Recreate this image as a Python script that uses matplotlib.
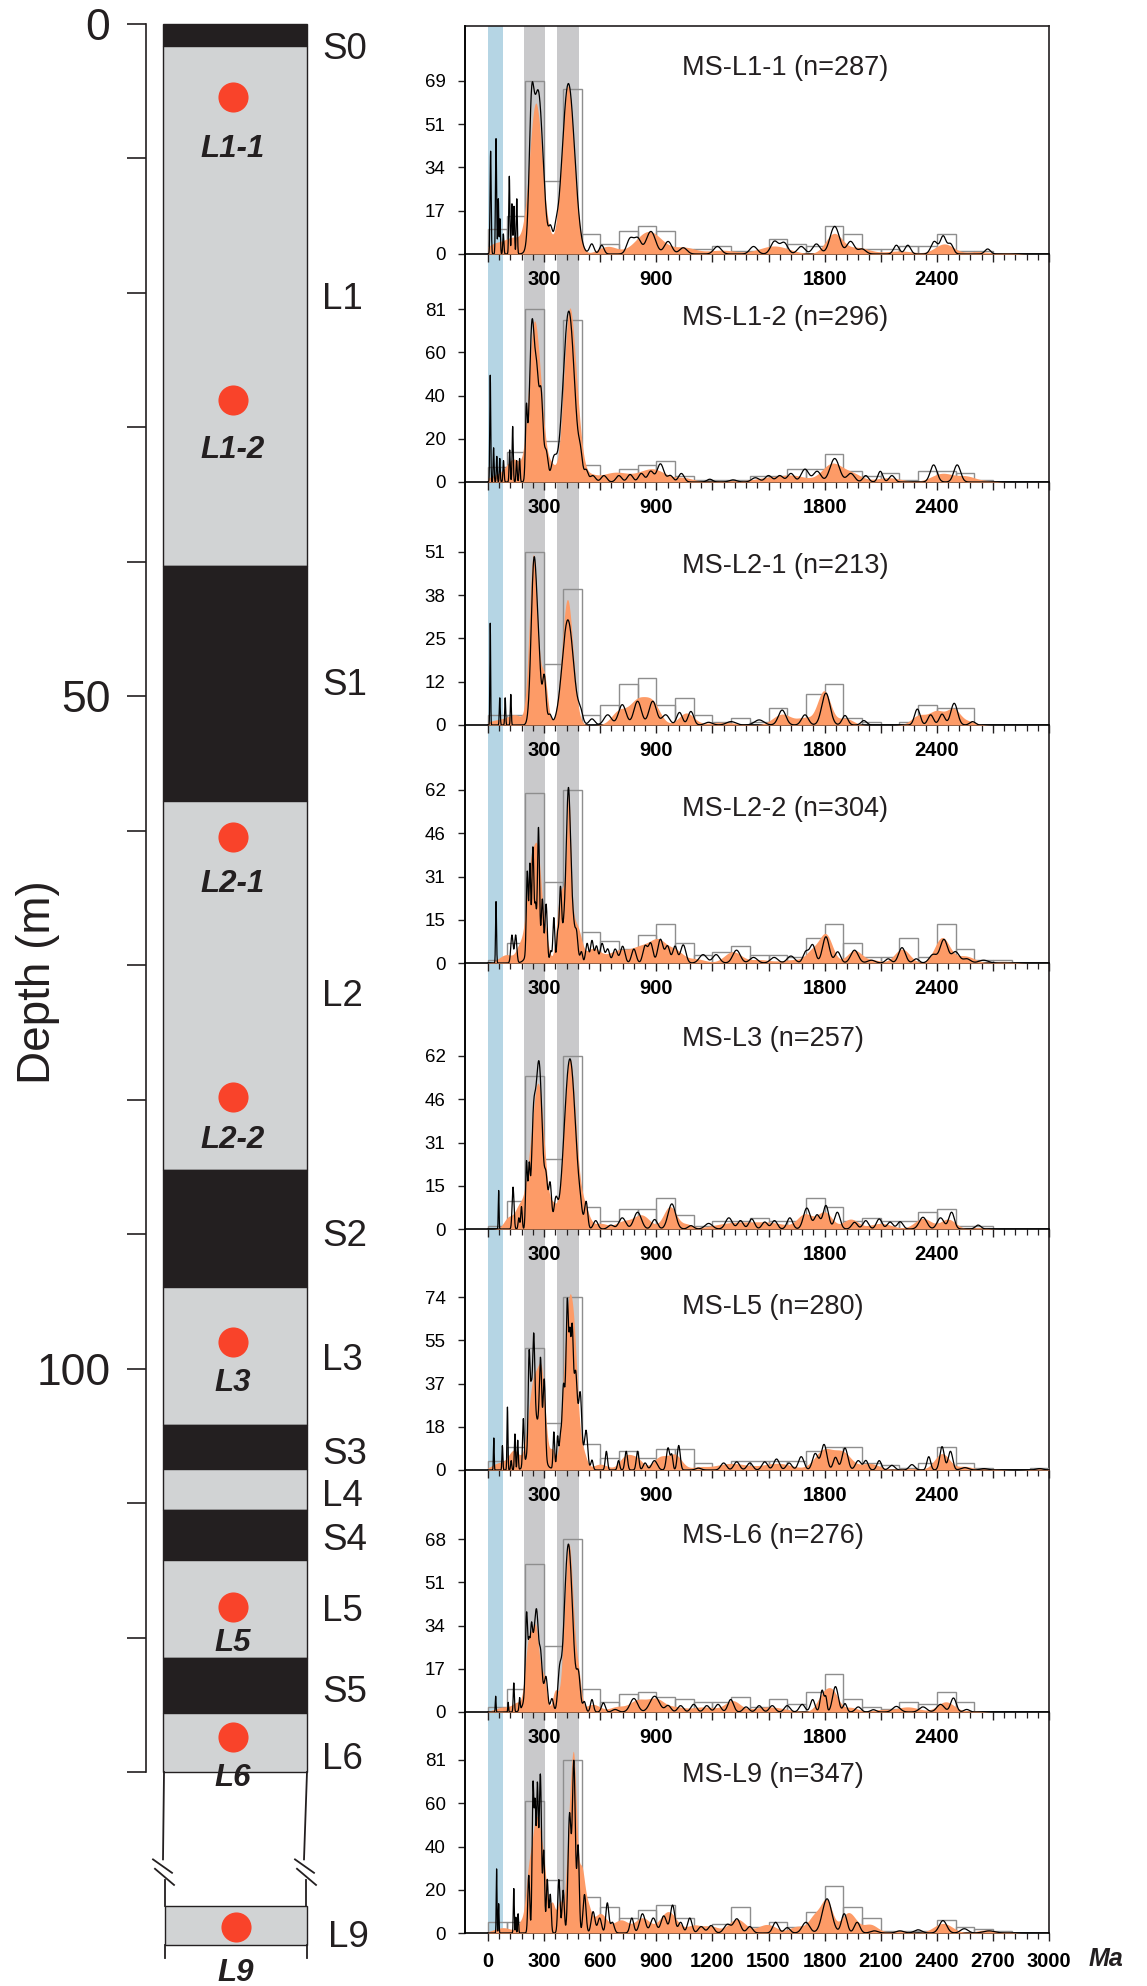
import numpy as np
import matplotlib
matplotlib.use('Agg')
import matplotlib.pyplot as plt

plt.rcParams['font.family'] = ['Liberation Sans', 'DejaVu Sans']

# ---------------- stratigraphic column ----------------
layer_names = ['S0', 'L1', 'S1', 'L2', 'S2', 'L3', 'S3', 'L4', 'S4', 'L5', 'S5', 'L6']
layer_tops = [0.0, 1.6, 40.3, 57.8, 85.2, 93.9, 104.2, 107.5, 110.5, 114.2, 121.5, 125.6]
layer_bottoms = [1.6, 40.3, 57.8, 85.2, 93.9, 104.2, 107.5, 110.5, 114.2, 121.5, 125.6, 130.0]
layer_label_depths = [1.9, 20.5, 49.2, 72.3, 90.2, 99.4, 106.4, 109.5, 112.8, 118.1, 124.1, 129.1]

sample_labels = ['L1-1', 'L1-2', 'L2-1', 'L2-2', 'L3', 'L5', 'L6']
sample_depths = [5.4, 28.0, 60.5, 79.8, 98.0, 117.7, 127.4]

# L9 lies below the break in the column (drawn on a shifted depth scale)
l9_box = (140.0, 142.9)
l9_depth = 141.5

# ---------------- detrital zircon age spectra ----------------
sample_names = ['MS-L1-1', 'MS-L1-2', 'MS-L2-1', 'MS-L2-2', 'MS-L3', 'MS-L5', 'MS-L6', 'MS-L9']
sample_n = [287, 296, 213, 304, 257, 280, 276, 347]
bin_edges = np.arange(0, 3001, 100)

# counts per 100 Ma bin, 0-3000 Ma
hist_l1_1 = [10, 15, 69, 29, 66, 8, 4, 9, 11, 9, 2, 2, 3, 1, 1, 6, 4, 3, 11, 8, 2, 2, 3, 3, 8, 1, 1, 0, 0, 0]
hist_l1_2 = [7, 14, 81, 19, 76, 8, 3, 6, 8, 10, 3, 1, 1, 1, 3, 3, 6, 6, 13, 5, 3, 4, 1, 5, 5, 4, 1, 0, 0, 0]
hist_l2_1 = [3, 3, 51, 18, 40, 3, 6, 12, 14, 6, 8, 3, 1, 2, 1, 5, 1, 9, 12, 2, 1, 0, 1, 6, 5, 5, 0, 0, 0, 0]
hist_l2_2 = [1, 7, 61, 29, 62, 11, 8, 5, 10, 14, 7, 3, 4, 6, 3, 3, 2, 9, 14, 7, 2, 2, 9, 2, 14, 5, 1, 1, 0, 0]
hist_l3 = [1, 10, 55, 25, 62, 8, 3, 7, 7, 11, 5, 1, 3, 3, 4, 3, 3, 11, 8, 3, 4, 3, 3, 6, 7, 1, 1, 0, 0, 0]
hist_l5 = [4, 10, 52, 20, 74, 11, 5, 8, 5, 9, 9, 3, 0, 4, 4, 4, 4, 8, 10, 10, 3, 2, 1, 3, 10, 3, 1, 0, 0, 1]
hist_l6 = [2, 9, 58, 26, 68, 9, 4, 7, 8, 6, 5, 4, 4, 6, 2, 5, 3, 8, 15, 5, 2, 1, 4, 3, 8, 4, 0, 0, 0, 0]
hist_l9 = [5, 5, 62, 25, 81, 17, 12, 7, 11, 13, 7, 3, 4, 12, 3, 5, 3, 10, 22, 12, 7, 1, 1, 1, 6, 3, 2, 1, 0, 0]

# kernel density peaks: (age Ma, height, spread Ma)
kde_l1_1 = [(40, 4, 50), (140, 6, 45), (256, 60, 35), (330, 3, 20), (428, 67, 34), (640, 3, 50),
            (860, 9, 70), (1050, 2.5, 60), (1250, 1.5, 80), (1530, 3.2, 80), (1850, 8, 45), (1980, 2.5, 60),
            (2200, 1.2, 80), (2440, 4, 50), (2620, 1, 60), (2780, 0.5, 40)]
kde_l1_2 = [(50, 3, 50), (140, 10, 40), (248, 74, 30), (290, 10, 20), (335, 8, 25), (435, 78, 30), (480, 15, 25),
            (530, 3, 40), (680, 4.5, 80), (880, 6, 70), (1050, 1.8, 50), (1280, 0.6, 80), (1490, 1.8, 70),
            (1630, 3, 70), (1840, 8.5, 55), (1950, 3.5, 50), (2140, 2, 70), (2430, 4, 60), (2560, 2.5, 50),
            (2670, 0.5, 40)]
kde_l2_1 = [(60, 1.5, 60), (150, 2.5, 40), (243, 50, 22), (300, 14, 18), (425, 37, 30), (700, 4, 40),
            (800, 7, 45), (880, 6, 40), (1060, 3.5, 40), (1250, 0.8, 80), (1573, 3.2, 50), (1695, 2, 40),
            (1797, 10, 35), (1910, 2, 40), (2305, 2.8, 40), (2400, 4, 40), (2489, 4.5, 35), (2570, 1, 40)]
kde_l2_2 = [(100, 3, 40), (170, 5, 20), (230, 34, 25), (270, 30, 20), (310, 8, 15), (380, 10, 15), (420, 28, 32),
            (432, 34, 10), (484, 8, 20), (560, 5, 40), (700, 4.5, 60), (820, 5, 50), (912, 7.5, 45),
            (1003, 4, 40), (1110, 1.5, 50), (1308, 4, 45), (1450, 1.2, 60), (1634, 1.2, 60), (1736, 4, 35),
            (1807, 10, 35), (1960, 4.5, 40), (2061, 1, 40), (2214, 5, 40), (2428, 9, 40), (2550, 2.5, 50),
            (2753, 0.6, 50)]
kde_l3 = [(110, 4, 25), (170, 8, 25), (215, 8, 20), (268, 52, 33), (350, 6, 18), (438, 61, 32), (515, 7, 25),
          (600, 2, 40), (720, 2.5, 40), (820, 5, 45), (973, 8, 35), (1064, 1.5, 30), (1300, 2, 100),
          (1500, 2.2, 100), (1695, 5, 40), (1800, 6, 40), (1939, 3.5, 40), (2100, 2, 60), (2326, 3.8, 45),
          (2460, 3.5, 40), (2620, 0.5, 40)]
kde_l5 = [(60, 3, 40), (140, 8, 30), (245, 38, 30), (290, 30, 20), (345, 8, 15), (395, 7, 15), (432, 68, 25),
          (465, 28, 18), (505, 8, 20), (600, 2.5, 40), (739, 6, 35), (800, 4, 30), (922, 5.5, 40), (1003, 6, 35),
          (1125, 1, 40), (1300, 2.8, 90), (1550, 2.8, 80), (1797, 8.5, 50), (1899, 7, 45), (2041, 2.8, 50),
          (2245, 0.7, 60), (2428, 7, 40), (2550, 1.5, 40), (2680, 0.5, 50), (2950, 0.6, 40)]
kde_l6 = [(90, 2, 50), (160, 3, 25), (215, 24, 18), (255, 32, 20), (300, 12, 15), (360, 8, 15), (433, 66, 24),
          (484, 11, 15), (560, 3, 40), (690, 2, 40), (800, 4.5, 45), (900, 5, 45), (1003, 1.5, 40), (1150, 2, 80),
          (1308, 4, 40), (1500, 2, 90), (1797, 7, 35), (1848, 6, 30), (1939, 1.8, 40), (2102, 0.9, 50),
          (2245, 2, 60), (2448, 4, 45), (2591, 0.5, 40)]
kde_l9 = [(80, 2.5, 50), (180, 5, 20), (215, 16, 15), (258, 53, 26), (300, 20, 18), (345, 13, 15), (385, 14, 15),
          (437, 48, 18), (462, 62, 15), (500, 25, 15), (530, 12, 20), (600, 9, 35), (711, 6, 40), (826, 7, 40),
          (964, 10, 45), (1102, 3.5, 40), (1193, 3, 40), (1331, 6.5, 45), (1492, 4, 50), (1652, 3, 40),
          (1750, 8, 35), (1813, 14, 30), (1928, 9.5, 40), (2043, 4, 40), (2203, 1, 50), (2433, 4.5, 50),
          (2662, 1.4, 50), (2780, 0.5, 30)]

# probability density peaks: (age Ma, height, spread Ma)
pdp_l1_1 = [(14, 41, 3), (43, 46, 3), (55, 22, 2.5), (64, 14, 2.5), (82, 8, 3), (114, 31, 3), (128, 20, 3),
            (139, 19, 3), (154, 22, 3), (232, 40, 12), (268, 65, 26), (335, 8, 10), (362, 5, 10),
            (430, 68, 33), (555, 4, 12), (608, 3.5, 12), (760, 6, 18), (800, 6, 18), (871, 9, 25),
            (963, 5, 20), (1044, 2.5, 20), (1227, 3, 20), (1420, 3, 20), (1532, 5, 20), (1583, 4.5, 20),
            (1675, 3, 20), (1756, 4, 20), (1854, 11, 25), (1939, 5, 20), (2000, 2, 20), (2184, 3.5, 15),
            (2245, 3.5, 15), (2387, 5, 18), (2434, 7, 15), (2473, 4, 15), (2672, 2, 15)]
pdp_l1_2 = [(12, 50, 2.5), (30, 16, 2.5), (47, 12, 2.5), (63, 11, 2.5), (83, 10, 3), (116, 15, 3), (132, 26, 3),
            (153, 10, 3), (169, 11, 3), (205, 30, 5), (236, 75, 14), (262, 38, 10), (284, 40, 10), (311, 14, 10),
            (352, 10, 14), (432, 80, 30), (495, 8, 10), (525, 5, 10), (560, 3, 15), (620, 3, 15), (700, 3, 15),
            (760, 3.5, 15), (820, 4, 15), (870, 5, 15), (922, 8.5, 18), (975, 3, 15), (1034, 4, 15),
            (1186, 1.3, 15), (1310, 1, 20), (1430, 2, 20), (1500, 3, 18), (1560, 3, 18), (1620, 4, 18),
            (1695, 6, 20), (1760, 5, 20), (1854, 11, 25), (1940, 4, 20), (2020, 3, 15), (2098, 5, 13),
            (2160, 3, 15), (2383, 8, 18), (2509, 8, 18)]
pdp_l2_1 = [(12, 30, 2), (63, 8, 2.5), (92, 8, 2.5), (122, 9, 2.5), (246, 48, 15), (272, 15, 12), (301, 14, 9),
            (330, 3, 10), (427, 31, 30), (495, 3, 12), (556, 1.8, 15), (640, 3, 20), (718, 6, 20), (800, 7, 20),
            (881, 7, 20), (950, 3, 20), (1024, 3.7, 15), (1085, 4, 15), (1180, 0.8, 20), (1300, 1, 25),
            (1450, 1.5, 25), (1573, 4.4, 20), (1695, 3, 18), (1807, 9.4, 22), (1909, 2.8, 15), (2010, 1.3, 15),
            (2296, 4.7, 15), (2367, 3, 15), (2428, 3.2, 15), (2493, 6.4, 18), (2591, 1, 15)]
pdp_l2_2 = [(43, 22, 2.5), (128, 10, 6), (148, 10, 6), (255, 12, 30), (210, 29, 5), (224, 28, 4), (240, 31, 5),
            (254, 9, 4), (270, 38, 5), (291, 17, 5), (311, 19, 6), (336, 4, 5), (352, 16, 5), (372, 9, 5),
            (387, 22, 6), (430, 36, 10), (432, 27, 25), (474, 5, 6), (500, 3.4, 6), (530, 7, 8), (556, 8, 8),
            (580, 6, 8), (610, 7, 10), (640, 5, 10), (680, 5, 12), (720, 6, 12), (780, 5, 12), (840, 6, 12),
            (870, 7, 12), (922, 8.5, 14), (960, 6, 12), (1000, 6, 12), (1044, 6.5, 14), (1150, 3, 20),
            (1220, 3, 18), (1329, 4.6, 20), (1420, 2, 20), (1530, 2, 20), (1620, 2.5, 20), (1700, 4, 15),
            (1736, 6.4, 15), (1807, 9.4, 18), (1870, 4, 15), (1960, 4.6, 20), (2050, 1, 20), (2140, 1.5, 15),
            (2214, 5.5, 18), (2290, 1.5, 15), (2380, 3, 20), (2438, 8.4, 20), (2500, 4, 20), (2560, 1.5, 20),
            (2650, 1, 25)]
pdp_l3 = [(57, 13.8, 2), (134, 15, 5), (165, 4, 4), (179, 8, 4), (206, 24, 5), (220, 20, 5), (242, 28, 10),
          (272, 60, 18), (311, 14, 8), (332, 16, 8), (362, 9, 10), (438, 61, 30), (494, 2, 8), (525, 9, 8),
          (576, 3, 12), (657, 1.4, 15), (718, 4, 18), (800, 6, 20), (891, 3.4, 15), (983, 9, 20), (1085, 1.2, 15),
          (1180, 2, 20), (1288, 4, 18), (1350, 3, 15), (1410, 3.6, 15), (1480, 2.5, 15), (1532, 3, 15),
          (1614, 4, 15), (1705, 7.5, 18), (1760, 5, 15), (1807, 8.4, 15), (1868, 6, 15), (1960, 2.4, 15),
          (2020, 3, 15), (2092, 3.6, 15), (2150, 2.5, 15), (2204, 2.6, 15), (2326, 4.2, 20), (2420, 4, 18),
          (2479, 6, 15), (2621, 1.4, 15)]
pdp_l5 = [(31, 13.7, 2), (77, 10.4, 2.5), (104, 26.9, 2.5), (124, 4, 3), (144, 15.4, 3), (159, 12.6, 3),
          (189, 20, 4), (255, 22, 30), (220, 40, 5), (231, 15, 4), (244, 38, 6), (281, 33, 6), (301, 32, 6),
          (352, 15, 4), (372, 10, 4), (387, 5, 5), (445, 40, 35), (403, 17, 6), (424, 40, 6), (438, 18, 4),
          (450, 23, 5), (470, 11, 6), (494, 18, 7), (525, 14, 8), (556, 4, 6), (633, 8, 6), (698, 4, 6),
          (739, 8, 7), (800, 8, 7), (840, 3, 10), (890, 4, 15), (963, 9.5, 9), (983, 6, 6), (1020, 10.5, 8),
          (1125, 0.8, 15), (1260, 3, 15), (1330, 3.5, 15), (1400, 3, 15), (1480, 3.5, 15), (1543, 4.7, 15),
          (1610, 3, 15), (1675, 5.7, 15), (1750, 7, 15), (1797, 10.9, 15), (1858, 5.4, 12), (1909, 9.4, 15),
          (1980, 4, 15), (2021, 4, 12), (2092, 4, 12), (2160, 2, 15), (2267, 2.3, 15), (2357, 5.7, 10),
          (2428, 10, 12), (2473, 8, 12), (2550, 1, 20), (2652, 0.6, 20), (2950, 0.6, 20)]
pdp_l6 = [(41, 6.2, 2), (108, 3.8, 2), (138, 11.4, 3), (169, 4.9, 3), (250, 30, 30), (206, 29, 6), (220, 9, 4),
          (232, 10, 5), (260, 12, 8), (282, 7, 6), (311, 10, 8), (342, 5, 8), (382, 12, 9), (430, 66, 22),
          (484, 13, 10), (515, 4, 8), (556, 4.9, 8), (617, 3.6, 10), (680, 1, 15), (780, 5.3, 20), (891, 6.2, 25),
          (963, 2.5, 15), (1030, 2.5, 15), (1100, 3, 15), (1170, 2.5, 15), (1230, 3, 15), (1298, 4.9, 15),
          (1380, 2, 15), (1450, 2.5, 15), (1520, 2.5, 15), (1600, 2.5, 15), (1680, 3, 15), (1736, 4.9, 12),
          (1787, 8.6, 10), (1807, 5, 6), (1858, 10, 15), (1909, 3.3, 10), (1980, 2, 15), (2061, 0.9, 15),
          (2184, 2.2, 20), (2326, 2, 20), (2420, 3, 20), (2489, 5.5, 15), (2560, 1, 15)]
pdp_l9 = [(46, 30, 2), (57, 13.7, 2), (138, 20.8, 2.5), (149, 7.4, 2), (161, 9, 2.5), (218, 27, 5), (241, 70, 5),
          (252, 53, 4), (264, 68, 5), (280, 74, 6), (298, 38, 5), (317, 25, 5), (333, 18, 5), (379, 25, 6),
          (402, 20, 6), (436, 55, 8), (459, 80, 8), (482, 40, 6), (516, 18, 8), (562, 10, 10), (597, 7, 10),
          (638, 14, 8), (665, 5, 10), (769, 7, 10), (826, 9, 15), (884, 7, 15), (940, 8, 15), (987, 13, 12),
          (1030, 5, 12), (1079, 7, 12), (1140, 3, 15), (1193, 3.5, 15), (1280, 4, 18), (1331, 6.6, 18),
          (1400, 3, 15), (1538, 5, 15), (1600, 2.5, 15), (1700, 5, 20), (1813, 16, 25), (1905, 9, 15),
          (1974, 5, 15), (2066, 1, 20), (2203, 1, 20), (2300, 1.5, 20), (2433, 5.8, 20), (2547, 2, 20),
          (2680, 1, 30)]

hists = [hist_l1_1, hist_l1_2, hist_l2_1, hist_l2_2, hist_l3, hist_l5, hist_l6, hist_l9]
kdes = [kde_l1_1, kde_l1_2, kde_l2_1, kde_l2_2, kde_l3, kde_l5, kde_l6, kde_l9]
pdps = [pdp_l1_1, pdp_l1_2, pdp_l2_1, pdp_l2_2, pdp_l3, pdp_l5, pdp_l6, pdp_l9]

# age bands shaded across all spectra
blue_band = (0, 78)
grey_bands = [(192, 305), (368, 484)]


def peak_curve(peaks, ages):
    y = np.zeros_like(ages)
    for age, h, s in peaks:
        y += h * np.exp(-0.5 * ((ages - age) / s) ** 2)
    return y


# ---------------- figure layout (pixels) ----------------
W, H = 1147, 1986
fig = plt.figure(figsize=(W / 100, H / 100), dpi=100)

BLACK = '#231f20'
GREY = '#d1d3d4'
RED = '#f9432a'
ORANGE = '#fd9b67'
BLUE = '#b5d5e4'
BAND = '#c9c9cb'

top_px, px_per_m = 24, 13.446

axL = fig.add_axes([0, 0, 465 / W, 1])
axL.set_xlim(0, 465)
axL.set_ylim((H - top_px) / px_per_m, -top_px / px_per_m)
for side in ['top', 'right', 'bottom']:
    axL.spines[side].set_visible(False)
axL.spines['left'].set_position(('data', 146))
axL.spines['left'].set_bounds(0, 130)
axL.spines['left'].set_color(BLACK)
axL.spines['left'].set_linewidth(1.2)
axL.xaxis.set_visible(False)
axL.set_yticks(range(0, 131, 10))
axL.set_yticklabels(['0', '', '', '', '', '50', '', '', '', '', '100', '', '', ''])
axL.tick_params(axis='y', length=13.7, width=1.2, color=BLACK, labelsize=32, pad=12, labelcolor=BLACK)
axL.patch.set_visible(False)

col_x, col_w = 163, 144
for name, t, b in zip(layer_names, layer_tops, layer_bottoms):
    axL.bar(col_x, b - t, bottom=t, width=col_w, align='edge',
            color=BLACK if name.startswith('S') else GREY, edgecolor=BLACK, linewidth=1)
for name, d in zip(layer_names, layer_label_depths):
    axL.text(322, d, name, ha='left', va='center', fontsize=26.5, color=BLACK)

# column below the lowest layer, the break, and L9
lw = 1.3
axL.plot([164, 163], [130, 136.5], color=BLACK, lw=lw)
axL.plot([307, 304], [130, 136.5], color=BLACK, lw=lw)
axL.plot([165, 165], [138.0, l9_box[0]], color=BLACK, lw=lw)
axL.plot([306, 306], [138.0, l9_box[0]], color=BLACK, lw=lw)
for xc in (163, 305):
    axL.plot([xc - 10, xc + 9], [136.5, 137.5], color=BLACK, lw=lw)
    axL.plot([xc - 8, xc + 11], [137.2, 138.4], color=BLACK, lw=lw)
axL.bar(165, l9_box[1] - l9_box[0], bottom=l9_box[0], width=142, align='edge',
        color=GREY, edgecolor=BLACK, linewidth=1)
axL.plot([165, 165], [l9_box[1], l9_box[1] + 0.9], color=BLACK, lw=lw)
axL.plot([307, 307], [l9_box[1], l9_box[1] + 0.9], color=BLACK, lw=lw)
axL.text(328, 142.3, 'L9', ha='left', va='center', fontsize=26.5, color=BLACK)

label_offsets_px = [52, 50, 47, 43, 41, 36, 41]
axL.scatter([233] * len(sample_depths), sample_depths, s=470, color=RED, zorder=5, linewidths=0)
for lab, d, off in zip(sample_labels, sample_depths, label_offsets_px):
    axL.text(233, d + off / px_per_m, lab, ha='center', va='center', fontsize=22.5,
             fontweight='bold', fontstyle='italic', color=BLACK)
axL.scatter([236], [l9_depth], s=470, color=RED, zorder=5, linewidths=0)
axL.text(236, l9_depth + 46 / px_per_m, 'L9', ha='center', va='center', fontsize=22.5,
         fontweight='bold', fontstyle='italic', color=BLACK)

fig.text(38 / W, 1 - 982 / H, 'Depth (m)', rotation=90, ha='center', va='center', fontsize=33, color=BLACK)

# ---------------- age spectra ----------------
frame_left, frame_right, frame_top = 465, 1049, 26
baselines = [254, 482, 725, 963, 1229, 1470, 1712, 1933]
top_tick_px = 173
title_offsets_px = [186, 164, 159, 154, 190, 163, 176, 158]
x_min = -123

axB = fig.add_axes([frame_left / W, 1 - baselines[-1] / H, (frame_right - frame_left) / W,
                    (baselines[-1] - frame_top) / H])
axB.set_xlim(x_min, 3000)
axB.set_ylim(0, 1)
axB.axvspan(*blue_band, color=BLUE, lw=0)
for band in grey_bands:
    axB.axvspan(*band, color=BAND, lw=0)
axB.set_xticks([])
axB.set_yticks([])
axB.spines['bottom'].set_visible(False)
for side in ['left', 'right', 'top']:
    axB.spines[side].set_linewidth(1.2)
    axB.spines[side].set_color(BLACK)
axB.set_zorder(0)

ages = np.arange(0, 3001, 1.0)
shown = {300, 900, 1800, 2400}
for k in range(8):
    top = frame_top if k == 0 else baselines[k - 1]
    h_px = baselines[k] - top
    ax = fig.add_axes([frame_left / W, 1 - baselines[k] / H, (frame_right - frame_left) / W, h_px / H])
    ax.set_zorder(20 - k)
    ax.patch.set_visible(False)
    counts = np.array(hists[k])
    ymax = counts.max()
    ax.set_xlim(x_min, 3000)
    ax.set_ylim(0, ymax * h_px / top_tick_px)

    nz = counts > 0
    ax.bar(bin_edges[:-1][nz], counts[nz], width=100, align='edge', fill=False,
           edgecolor='#8e8e8e', linewidth=1.0, zorder=2)
    ax.fill_between(ages, 0, peak_curve(kdes[k], ages), color=ORANGE, lw=0, zorder=3)
    ax.plot(ages, peak_curve(pdps[k], ages), color='black', lw=0.9, zorder=4)

    ax.text(1040, title_offsets_px[k] / top_tick_px * ymax, f'{sample_names[k]} (n={sample_n[k]})',
            ha='left', va='center', fontsize=19.5, color=BLACK)

    ticks = [ymax * i / 4 for i in range(5)]
    ax.set_yticks(ticks)
    ax.set_yticklabels([str(int(t)) for t in ticks])
    ax.tick_params(axis='y', length=5, width=1, color=BLACK, labelsize=13.5, pad=9)

    ax.set_xticks(range(0, 3001, 300))
    ax.set_xticks(range(0, 3001, 60), minor=True)
    if k < 7:
        ax.set_xticklabels([str(v) if v in shown else '' for v in range(0, 3001, 300)])
        xpad = 6
    else:
        ax.set_xticklabels([str(v) for v in range(0, 3001, 300)])
        xpad = 8
    for lab in ax.get_xticklabels():
        lab.set_fontweight('bold')
    ax.tick_params(axis='x', which='major', length=5.5, width=1, color=BLACK, labelsize=14.5, pad=xpad)
    ax.tick_params(axis='x', which='minor', length=4, width=0.9, color=BLACK)

    ax.spines['top'].set_visible(False)
    ax.spines['right'].set_visible(False)
    ax.spines['bottom'].set_linewidth(1.2)
    ax.spines['left'].set_linewidth(1.2)

fig.text(1106 / W, 1 - 1959 / H, 'Ma', ha='center', va='center', fontsize=18,
         fontweight='bold', fontstyle='italic', color=BLACK)

fig.savefig('out.png', dpi=100)
